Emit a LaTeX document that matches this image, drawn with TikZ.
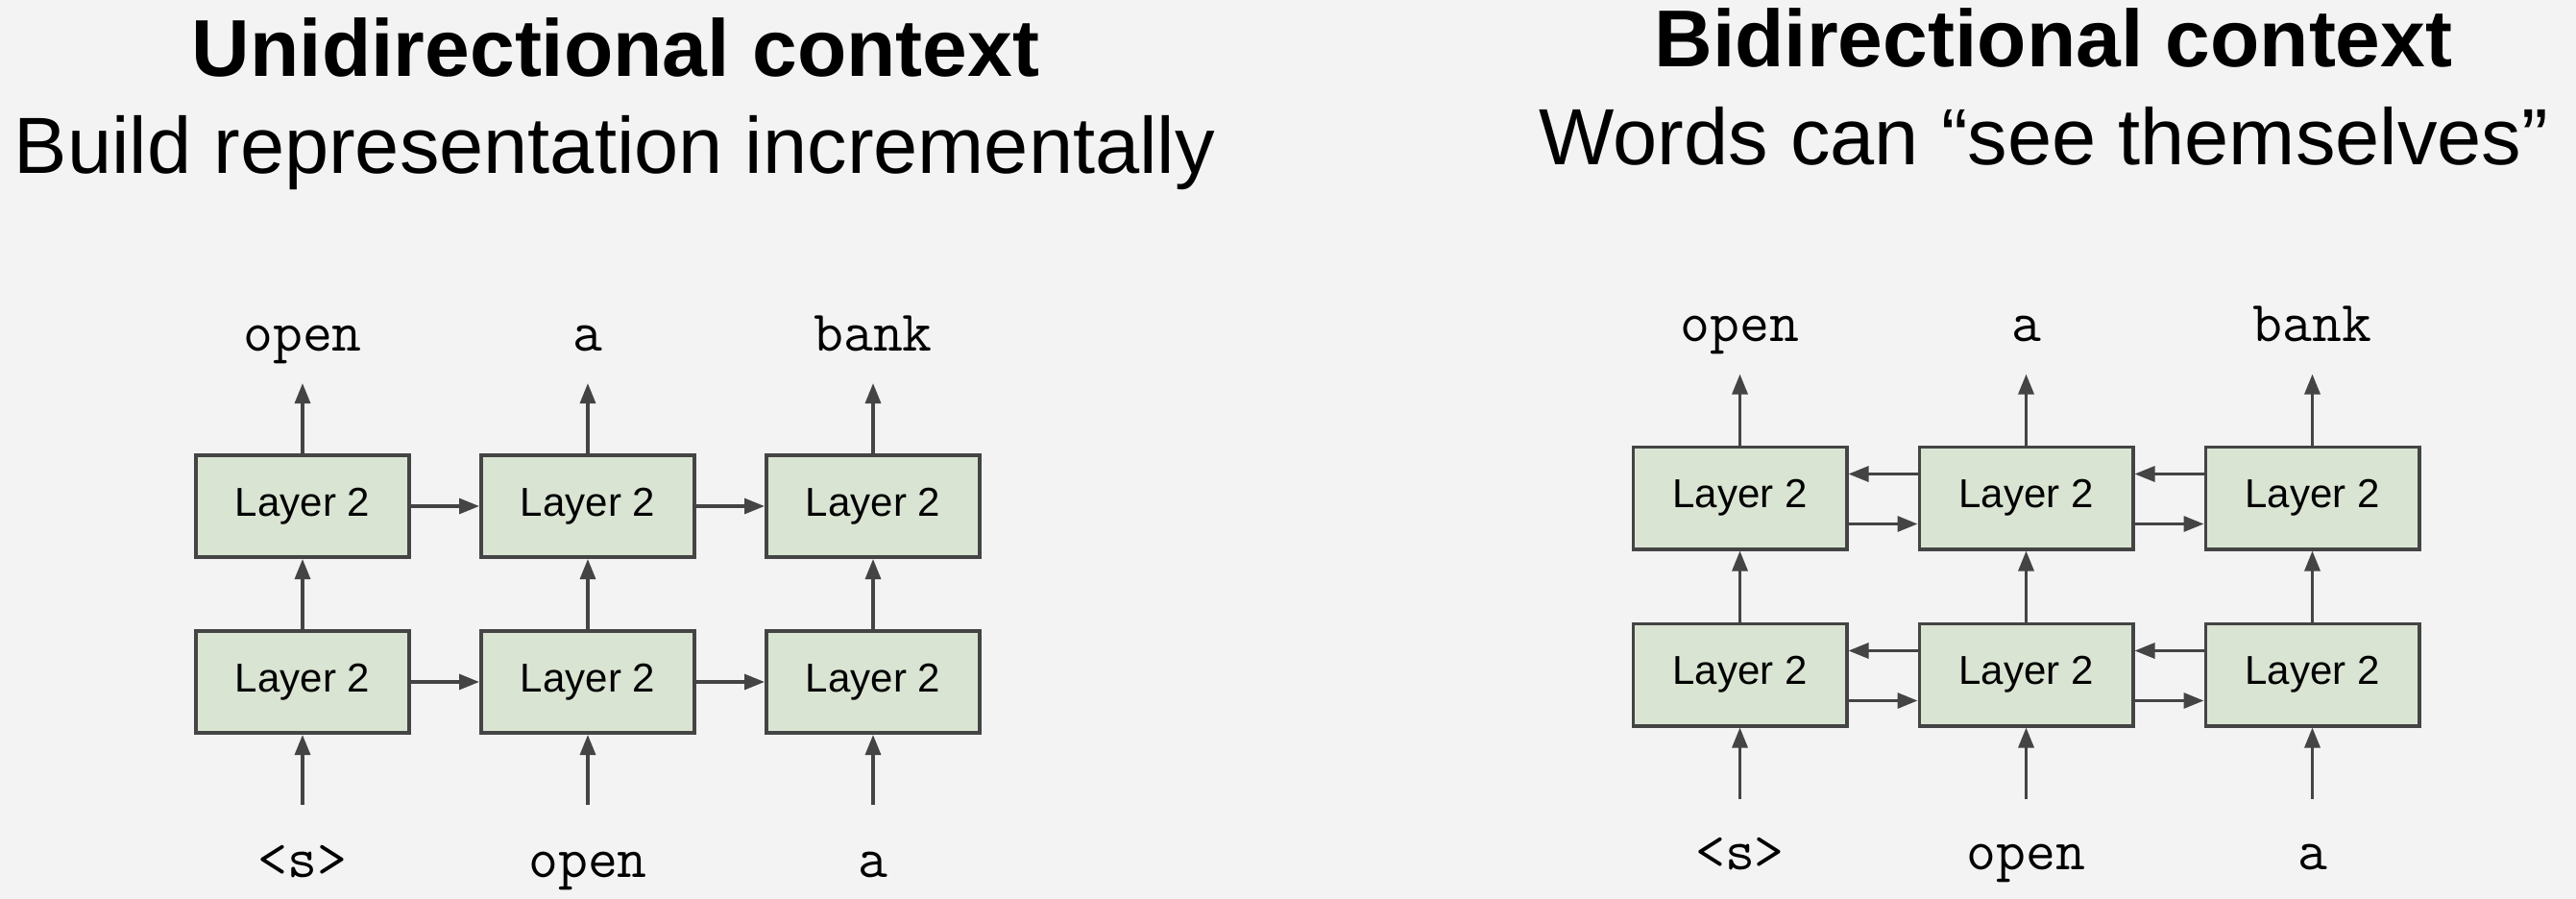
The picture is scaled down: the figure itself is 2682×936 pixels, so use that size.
\documentclass[tikz,border=0pt]{standalone}
\usepackage{fontspec}
\setmainfont{Liberation Sans}
\usetikzlibrary{arrows.meta, positioning}

\definecolor{bggray}{HTML}{F3F3F3}
\definecolor{boxgreen}{HTML}{D9E4D3}
\definecolor{linegray}{HTML}{444444}

\begin{document}
\begin{tikzpicture}[x=0.5pt, y=-0.5pt,
      node distance=36.5pt and 35.5pt,
      layer/.style={rectangle, draw=linegray, line width=1.8pt, fill=boxgreen, minimum width=111.2pt, minimum height=53.2pt, inner sep=0pt, font=\fontsize{21}{24}\selectfont},
      word/.style={anchor=base, inner sep=0pt, font=\ttfamily\fontsize{30}{34}\selectfont},
      heading/.style={anchor=base, inner sep=0pt, font=\bfseries\fontsize{42}{48}\selectfont},
      subheading/.style={anchor=base, inner sep=0pt, font=\fontsize{41.5}{48}\selectfont},
      arrow/.style={-{Triangle[length=10.5pt, width=8pt]}, line width=1.6pt, draw=linegray}
    ]
    \fill[bggray] (0,0) rectangle (2682,936);
    \useasboundingbox (0,0) rectangle (2682,936);

    % unidirectional
    \node[heading] (uhead) at (641,80) {Unidirectional context};
    \node[subheading] (usub) at (640,181) {Build representation incrementally};

    \node[layer] (ut1) at (315,527) {Layer 2};
    \node[layer, right=of ut1] (ut2) {Layer 2};
    \node[layer, right=of ut2] (ut3) {Layer 2};
    \node[layer, below=of ut1] (ub1) {Layer 2};
    \node[layer, right=of ub1] (ub2) {Layer 2};
    \node[layer, right=of ub2] (ub3) {Layer 2};

    \draw[arrow] (ut1) -- (ut2);
    \draw[arrow] (ut2) -- (ut3);
    \draw[arrow] (ub1) -- (ub2);
    \draw[arrow] (ub2) -- (ub3);

    \foreach \i/\out/\in in {1/open/<s>, 2/a/open, 3/bank/a} {
      \draw[arrow] (ub\i) -- (ut\i);
      \coordinate (uo\i) at ([yshift=36.5pt]ut\i.north);
      \coordinate (ui\i) at ([yshift=-36.5pt]ub\i.south);
      \draw[arrow] (ut\i) -- (uo\i);
      \draw[arrow] (ui\i) -- (ub\i);
      \node[word] (uw\i) at ([yshift=17pt]uo\i) {\out};
      \node[word] (uv\i) at ([yshift=-37.5pt]ui\i) {\in};
    }

    % bidirectional
    \node[heading] (bhead) at (2138,70) {Bidirectional context};
    \node[subheading] (bsub) at (2128,172) {Words can “see themselves”};

    \begin{scope}[node distance=37pt and 36pt]
      \node[layer] (bt1) at (1811.5,518.5) {Layer 2};
      \node[layer, right=of bt1] (bt2) {Layer 2};
      \node[layer, right=of bt2] (bt3) {Layer 2};
      \node[layer, below=of bt1] (bb1) {Layer 2};
      \node[layer, right=of bb1] (bb2) {Layer 2};
      \node[layer, right=of bb2] (bb3) {Layer 2};
    \end{scope}

    \foreach \a/\b in {bt1/bt2, bt2/bt3, bb1/bb2, bb2/bb3} {
      \draw[arrow] ([yshift=-13.5pt]\a.east) -- ([yshift=-13.5pt]\b.west);
      \draw[arrow] ([yshift=12.5pt]\b.west) -- ([yshift=12.5pt]\a.east);
    }

    \foreach \i/\out/\in in {1/open/<s>, 2/a/open, 3/bank/a} {
      \draw[arrow] (bb\i) -- (bt\i);
      \coordinate (bo\i) at ([yshift=37pt]bt\i.north);
      \coordinate (bi\i) at ([yshift=-37pt]bb\i.south);
      \draw[arrow] (bt\i) -- (bo\i);
      \draw[arrow] (bi\i) -- (bb\i);
      \node[word] (bw\i) at ([yshift=17pt]bo\i) {\out};
      \node[word] (bv\i) at ([yshift=-37pt]bi\i) {\in};
    }
  \end{tikzpicture}
\end{document}
